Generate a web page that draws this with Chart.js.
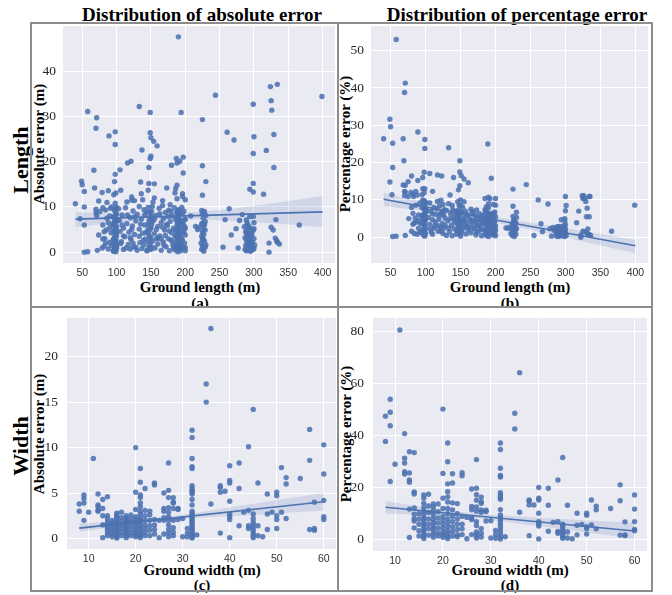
<!DOCTYPE html>
<html><head><meta charset="utf-8">
<script src="https://cdn.jsdelivr.net/npm/chart.js@4"></script>
<style>
body{margin:0;background:#fff;width:672px;height:595px;position:relative;overflow:hidden;font-family:'Liberation Serif','Times New Roman',serif}
.t{position:absolute;white-space:nowrap;line-height:1;font-weight:bold;color:#000;transform:translate(-50%,-50%)}
.r{transform:translate(-50%,-50%) rotate(-90deg)}
.ln{position:absolute;background:#8c8c8c;z-index:5}
canvas{position:absolute}
.clip{position:absolute;left:0;top:0;width:672px;height:306px;overflow:hidden}
</style></head><body>
<div class="t" style="left:202px;top:14px;font-size:19px">Distribution of absolute error</div>
<div class="t" style="left:517px;top:14px;font-size:19px">Distribution of percentage error</div>
<div class="t r" style="left:21px;top:160px;font-size:22px">Length</div>
<div class="t r" style="left:21px;top:446px;font-size:22px">Width</div>
<div class="t r" style="left:39px;top:144px;font-size:15px">Absolute error (m)</div>
<div class="t r" style="left:345px;top:144px;font-size:15px">Percentage error (%)</div>
<div class="t r" style="left:39px;top:434px;font-size:15px">Absolute error (m)</div>
<div class="t r" style="left:346px;top:434px;font-size:15px">Percentage error (%)</div>
<div class="t" style="left:200px;top:287px;font-size:15px">Ground length (m)</div>
<div class="t" style="left:510px;top:287px;font-size:15px">Ground length (m)</div>
<div class="t" style="left:202px;top:570px;font-size:15px">Ground width (m)</div>
<div class="t" style="left:510px;top:570px;font-size:15px">Ground width (m)</div>
<div class="clip">
<div class="t" style="left:200px;top:303px;font-size:15px">(a)</div>
<div class="t" style="left:510px;top:303px;font-size:15px">(b)</div>
</div>
<div class="t" style="left:202px;top:585px;font-size:15px">(c)</div>
<div class="t" style="left:510px;top:585px;font-size:15px">(d)</div>
<canvas id="ca" width="320" height="263" style="left:19px;top:22px"></canvas>
<canvas id="cb" width="325" height="263" style="left:327px;top:22px"></canvas>
<canvas id="cc" width="317" height="257" style="left:23px;top:314px"></canvas>
<canvas id="cd" width="322" height="259" style="left:329px;top:314px"></canvas>
<div class="ln" style="left:30px;top:22px;width:623px;height:2px"></div>
<div class="ln" style="left:30px;top:22px;width:2px;height:570px"></div>
<div class="ln" style="left:651px;top:22px;width:2px;height:570px"></div>
<div class="ln" style="left:30px;top:590px;width:623px;height:2px"></div>
<div class="ln" style="left:337px;top:22px;width:2px;height:570px"></div>
<div class="ln" style="left:30px;top:306px;width:623px;height:2px"></div>
<script>
// ---- tick labels ----
const lenTicks = [50,100,150,200,250,300,350,400];
const widTicks = [10,20,30,40,50,60];
const absLenTicks = [0,10,20,30,40];
const pctLenTicks = [0,10,20,30,40,50];
const absWidTicks = [0,5,10,15,20];
const pctWidTicks = [0,20,40,60,80];

// ---- (a) ground length vs absolute error ----
const absLenPts = [
[190,47.6],[244,34.7],[334,37.1],[324,36.6],[399,34.4],[299,32.7],[325,33.5],[326,31.4],[133,32.2],[58,31.1],
[149,30.9],[194,30.9],[71,29.7],[225,29.3],[70,27.4],[261,26.5],[149,26.4],[98,26.6],[89,25.7],[150,25.3],
[154,24.5],[329,26.0],[300,25.5],[271,24.8],[159,23.5],[98,23.8],[137,22.6],[318,22.5],[299,21.8],[150,21.2],
[149,20.7],[187,20.7],[197,21.0],[121,20.1],[116,19.7],[180,19.2],[188,19.7],[192,20.1],[225,19.1],[147,18.7],
[329,18.7],[67,18.1],[105,18.2],[98,17.2],[197,17.5],[135,15.5],[97,15.6],[49,15.7],[50,14.9],[230,15.6],
[147,15.2],[155,15.1],[299,15.2],[68,14.2],[188,14.8],[53,13.4],[79,13.2],[88,13.6],[106,13.7],[146,13.7],
[173,14.2],[186,14.0],[185,13.1],[196,12.9],[299,13.3],[294,13.9],[314,12.8],[99,13.1],[96,12.7],[225,12.6],
[136,12.9],[155,12.0],[122,12.2],[115,11.1],[122,11.5],[126,11.4],[40,10.7],[74,11.3],[86,11.0],[98,10.8],
[167,11.4],[188,11.8],[196,12.3],[138,11.6],[153,11.1],[178,10.5],[167,10.3],[152,10.1],[133,10.1],[113,9.8],
[93,10.0],[80,9.8],[70,9.5],[53,10.0],[264,9.6],[224,9.2],[190,9.4],[196,8.6],[208,8.0],[283,8.3],
[299,7.9],[294,7.9],
[47,7.4],[53,6.0],[53,0.0],[58,0.1],[70,8.7],[71,8.1],[72,0.4],[74,3.8],[76,9.0],[79,0.9],
[80,2.9],[82,1.3],[83,3.0],[84,9.3],[85,4.9],[88,6.5],[90,5.4],[90,2.2],[91,9.7],[92,4.3],[95,2.7],[95,0.3],
[80,6.0],[82,4.5],[84,2.0],[86,7.5],[88,0.7],[90,8.0],[92,1.5],[94,6.0],
[96,7.9],[96,4.6],[96,1.8],[97,9.2],[97,6.1],[97,3.2],[97,0.6],[98,8.0],[98,5.2],[98,2.4],[98,1.1],
[99,9.6],[99,6.8],[99,4.0],[99,1.5],[99,0.1],[100,8.5],[100,5.7],[100,3.6],[100,2.0],[100,0.8],
[96,0.2],[96,3.0],[96,6.4],[97,1.3],[97,4.8],[97,7.2],[98,0.4],[98,3.7],[98,6.6],[99,2.8],[99,5.4],[99,8.3],
[100,1.2],[100,4.5],[100,6.9],[100,9.9],
[103,9.6],[104,7.0],[105,4.6],[107,2.3],[108,8.2],[110,0.6],[110,5.3],[112,3.4],[115,6.3],[117,1.7],
[118,4.4],[120,7.6],[120,0.7],[121,2.8],[123,5.8],[124,9.1],[125,1.2],[126,3.9],[128,6.9],[130,8.4],[130,0.4],
[120,3.2],[122,5.0],[124,2.0],[126,7.8],[128,1.1],[116,8.2],[114,0.9],[110,3.6],[108,6.0],[106,1.9],
[133,5.1],[134,2.1],[136,7.3],[137,0.8],[138,4.2],[140,9.4],[140,1.6],[141,6.0],[142,2.9],[143,8.8],[144,0.3],
[145,4.8],[146,9.9],[147,6.6],[148,1.3],[148,3.4],[149,7.8],[150,5.4],[150,0.6],[151,9.0],[152,2.4],[153,6.9],
[155,4.1],[156,0.9],[157,8.1],[158,2.9],[160,5.7],[160,1.8],
[133,3.5],[135,6.2],[139,2.6],[141,8.2],[143,4.3],[145,0.4],[146,2.3],[146,5.9],[147,0.8],[147,4.1],[148,7.2],
[148,8.9],[149,2.0],[149,5.0],[150,3.2],[150,8.0],[151,1.1],[151,6.1],[155,7.3],[158,5.0],[160,3.2],
[162,9.7],[163,3.6],[165,6.5],[165,0.4],[168,7.4],[168,2.2],[170,4.9],[171,8.8],[172,1.2],[174,5.9],[175,3.0],
[176,9.3],[177,0.3],[178,6.8],[179,2.7],[180,4.3],[181,8.0],[182,1.6],[183,5.3],[184,9.8],[185,3.5],[185,0.5],
[163,8.5],[165,2.9],[167,5.5],[169,1.5],[171,3.7],[173,6.2],[175,7.9],[177,4.7],[179,9.0],[181,2.4],[183,0.9],
[186,7.1],[187,2.0],[188,6.0],[188,4.6],[188,1.0],[189,9.0],[189,3.1],[189,0.1],[190,7.6],[190,5.6],[190,2.5],
[190,0.7],[191,6.7],[191,4.0],[191,1.7],[192,8.2],[192,3.3],[193,0.3],[194,5.0],[195,9.9],[195,1.4],[196,2.7],
[197,6.3],[198,4.5],[198,0.8],[199,7.2],[199,2.0],[200,11.6],[200,5.3],[200,3.8],[200,1.0],
[186,1.2],[186,4.9],[187,3.8],[187,8.8],[188,2.8],[188,7.7],[189,5.3],[189,6.5],[190,1.6],[190,3.9],[190,8.6],
[191,0.4],[191,9.2],[192,2.1],[192,5.9],[193,4.4],[193,7.0],[194,1.1],[194,3.0],[195,6.6],[196,4.2],[197,1.2],
[198,9.1],[199,5.6],[200,7.3],[200,0.3],
[215,5.7],[218,5.0],[220,5.5],[223,2.0],[224,6.3],[224,0.6],[225,8.6],[225,4.4],[225,1.3],[226,7.5],[226,3.0],
[227,5.9],[227,0.2],[228,9.0],[228,2.4],[229,6.8],[229,4.9],[230,8.1],[230,1.6],
[224,3.5],[225,6.3],[225,2.8],[226,5.0],[226,0.7],[227,3.9],[228,6.1],[229,1.1],
[255,1.1],[258,7.2],[267,3.8],[274,5.2],[277,0.9],[279,7.0],
[286,5.6],[287,3.2],[287,0.6],[288,4.5],[288,1.5],[289,7.1],[289,2.6],[289,0.3],[290,5.0],[290,3.7],[290,1.0],
[291,6.1],[291,2.1],[291,0.5],[292,4.1],[292,1.3],[293,3.0],[293,0.8],[294,5.3],[294,1.8],[295,0.2],[296,3.5],
[296,2.4],[297,1.1],[298,4.7],[299,0.6],[300,6.5],[300,5.2],[300,3.0],[301,1.6],
[289,4.3],[290,6.4],[291,3.3],[292,2.8],[293,5.6],[294,4.0],[295,1.9],[296,0.4],[297,3.8],[298,2.2],[299,4.9],[300,0.9],
[322,2.0],[322,0.0],[325,5.5],[328,4.9],[331,3.1],[332,7.2],[333,2.6],[334,2.2],[337,1.8],[366,6.0]
];
const absLenLineX = [40,400];
const absLenLineY = [7.3,8.9];
const absLenBandX = [40,80,120,160,200,250,300,350,400];
const absLenBandHi = [8.9,8.6,8.4,8.6,8.7,9.3,10.2,11.3,12.4];
const absLenBandLo = [5.5,6.2,6.8,7.1,7.2,7.0,6.6,6.1,5.5];

// ---- (b) ground length vs percentage error ----
const pctLenPts = [
[58,53.0],[71,41.3],[70,38.8],[49,31.6],[50,29.6],[40,26.4],[68,26.4],[53,25.2],[89,28.2],[99,26.2],
[99,23.8],[133,24.0],[189,25.0],[69,20.5],[149,20.5],[53,18.7],[98,17.4],[149,17.5],[151,16.5],[106,17.1],
[117,16.7],[123,16.4],[80,16.4],[140,16.0],[194,15.8],[155,15.6],[161,14.6],[96,16.0],[89,15.2],[75,14.9],
[49,14.8],[244,14.1],[68,14.0],[71,13.9],[149,13.8],[147,12.7],[225,12.9],[110,12.3],[71,12.1],[79,12.0],
[86,12.3],[96,13.0],[98,11.9],[135,11.3],[52,11.4],[83,10.9],[75,10.9],[95,11.4],[185,10.4],[190,10.7],
[192,10.3],[200,10.4],[300,10.9],[326,11.1],[328,10.4],[329,9.6],[335,10.9],[261,10.0],[275,8.9],[301,8.5],
[225,8.3],[399,8.6],[300,7.1],[319,7.0],[331,7.8],[334,5.5],[316,3.9],[366,1.6],[255,0.45],[53,0.2],[58,0.3],
[71,0.5],[230,5.3],[265,3.6],[267,1.5],
[70,12.3],[70,11.2],[76,5.0],[80,8.0],[82,11.5],[82,3.5],[84,1.0],[85,5.2],[87,4.1],[88,11.3],[90,6.0],
[90,2.4],[92,9.2],[93,3.7],[94,1.2],[95,7.9],
[80,1.6],[82,6.4],[84,3.9],[86,8.6],[88,0.8],[90,4.5],[92,1.4],[94,5.8],
[96,5.2],[96,2.0],[97,8.4],[97,4.2],[97,0.6],[98,9.8],[98,6.4],[98,3.3],[98,1.5],[99,13.0],[99,7.5],[99,5.8],
[99,2.6],[99,0.3],[100,9.3],[100,4.7],[100,1.0],
[96,3.6],[96,9.9],[97,1.2],[97,6.0],[98,0.8],[98,4.7],[98,7.8],[99,3.8],[99,9.5],[100,2.3],[100,6.6],[100,8.0],
[102,7.1],[104,5.3],[106,9.2],[107,2.2],[108,6.9],[110,0.8],[110,4.7],[112,8.0],[113,3.0],[115,6.1],[117,9.6],
[118,1.6],[119,4.8],[120,8.4],[121,2.5],[122,9.9],[122,6.5],[124,3.7],[125,8.8],[125,1.0],[126,5.9],[127,7.4],
[128,3.2],[130,7.2],[130,0.5],
[106,3.4],[108,1.4],[110,6.2],[112,2.4],[114,4.1],[116,7.6],[118,3.1],[120,5.8],[122,1.6],[124,6.7],[126,2.4],[128,5.1],
[132,4.4],[133,9.0],[134,1.5],[136,6.2],[137,3.2],[138,8.5],[138,0.4],[140,5.1],[141,2.2],[142,7.0],[143,3.8],
[144,0.8],[145,5.5],[146,9.5],[147,7.3],[147,2.9],[148,4.4],[148,1.2],[149,6.0],[150,10.0],[150,3.6],[150,0.3],
[152,6.6],[152,1.8],[153,8.0],[154,4.2],[155,9.5],[155,2.6],[156,5.3],[157,7.0],[158,0.9],[159,3.9],[160,6.1],
[161,2.0],
[133,2.4],[135,5.0],[139,7.4],[141,4.4],[143,6.0],[145,1.8],[146,4.0],[146,6.8],[147,1.6],[147,5.4],[148,3.1],
[148,8.6],[149,2.1],[149,4.9],[150,6.7],[150,8.5],[151,1.0],[151,3.2],[155,4.6],[158,3.0],[160,2.9],
[163,5.0],[165,7.5],[165,1.2],[167,3.6],[168,6.3],[169,4.6],[170,2.3],[171,5.8],[172,0.6],[173,7.3],[174,3.2],
[175,4.9],[176,1.6],[177,6.3],[178,2.8],[179,5.1],[180,0.4],[181,3.9],[182,6.0],[183,2.0],[184,4.5],[185,7.4],
[163,2.6],[165,4.3],[167,6.9],[169,2.4],[171,4.2],[173,1.4],[175,3.1],[177,4.5],[179,2.2],[181,5.6],[183,3.6],
[185,1.0],[186,3.4],[186,5.5],[187,0.5],[187,8.2],[188,2.6],[188,6.7],[189,4.1],[189,1.4],[190,7.9],[190,5.2],
[190,3.1],[190,0.2],[191,6.0],[191,2.2],[192,4.7],[192,1.0],[193,3.6],[194,6.4],[195,2.0],[196,5.0],[196,0.6],
[197,8.8],[197,3.2],[198,6.3],[198,1.5],[199,4.3],[199,2.4],[200,8.6],[200,5.5],[200,3.0],[200,0.4],
[186,1.8],[186,7.0],[187,4.0],[188,1.1],[188,5.0],[189,3.0],[189,6.2],[190,1.3],[190,4.2],[190,9.0],[191,3.6],
[192,2.7],[192,6.2],[193,5.3],[194,1.5],[194,3.3],[195,4.6],[196,2.6],[197,1.2],[197,5.8],[198,3.8],[199,0.9],
[199,6.8],[200,1.8],
[215,2.5],[218,2.4],[220,2.6],[222,1.0],[224,3.7],[224,0.5],[225,5.6],[225,2.0],[226,3.1],[226,1.2],[227,4.2],
[227,0.2],[228,2.8],[228,1.8],[229,3.8],[229,0.8],[230,6.7],[230,2.3],
[224,2.2],[225,3.5],[225,0.9],[226,4.7],[227,1.8],[228,3.6],[229,2.2],
[278,2.3],[280,0.3],[282,2.6],[284,1.8],
[286,2.1],[287,1.2],[287,0.4],[288,2.8],[288,1.6],[289,1.0],[289,0.2],[290,2.4],[290,1.8],[291,0.6],[291,2.9],
[292,1.4],[292,0.3],[293,2.0],[293,1.0],[294,4.7],[294,2.7],[295,0.7],[296,1.5],[296,2.2],[297,0.4],[298,1.8],
[299,5.0],[299,4.4],[299,2.6],[299,0.2],[300,2.1],[300,1.1],[301,0.5],
[289,2.3],[290,0.9],[291,1.7],[292,2.4],[293,0.6],[294,1.6],[295,2.4],[296,0.9],[297,3.0],[298,1.2],[300,3.4],
[322,0.6],[322,0.0],[324,11.1],[325,10.4],[325,1.6],[328,1.5],[330,5.5],[331,1.0],[332,2.2],[333,0.8],[334,10.9],
[334,0.7],[336,0.5]
];
const pctLenLineX = [40,400];
const pctLenLineY = [10.2,-2.3];
const pctLenBandX = [40,80,120,160,200,250,300,350,400];
const pctLenBandHi = [12.0,10.1,8.3,6.7,5.4,3.9,2.4,0.9,-0.7];
const pctLenBandLo = [8.4,7.5,6.5,5.3,3.9,2.0,-0.1,-2.2,-4.2];

// ---- (c) ground width vs absolute error ----
const absWidPts = [
[36,23.1],[35,17.0],[35,15.0],[45,14.2],[57,12.0],[32,11.9],[32,11.1],[44,10.1],[20,10.0],[60,10.3],
[11,8.8],[32,8.8],[57,8.6],[27,8.3],[42,8.3],[40,8.0],[32,7.9],[32,7.7],[21,7.7],[51,7.8],
[60,7.1],[52,6.7],[55,6.6],[40,6.4],[40,6.1],[24,6.1],[24,5.9],[21,6.2],[46,6.1],[52,6.0],
[22,5.5],[42,5.5],[38,5.8],[38,5.6],[38,5.1],[39,5.2],[32,5.8],[32,5.5],[32,5.3],[32,5.1],
[32,4.9],[27,5.3],[26,5.0],[20,5.1],[50,5.1],[50,4.7],[21,4.8],[21,4.5],[48,4.9],[12,4.9],
[9,4.8],[9,4.4],[9,3.9],[8,3.8],[8,3.0],[9,2.0],[10,2.9],[14,4.6],[13,4.3],[12,3.7],
[12,3.5],[12,3.1],[12,3.0],[27,4.5],[28,4.5],[28,4.0],[28,3.9],[28,3.3],[40,4.1],[58,4.0],
[60,4.2],[36,3.8],[43,2.9],[44,3.1],[49,2.9],[48,2.7],[51,2.9],[50,2.5],[50,2.1],[52,2.2],
[40,2.7],[40,2.4],[40,2.1],[42,1.4],[44,1.4],[44,1.1],[46,1.4],[46,0.3],[47,0.2],[48,1.0],
[50,1.1],[57,1.0],[58,1.1],[58,0.9],[60,2.4],[60,2.1],[38,0.6],[40,0.1],
[45,2.7],[45,2.2],[45,1.8],[45,1.5],[45,1.2],[45,0.9],[45,0.6],[45,0.3],[45,0.1],
[30,0.2],[31,0.2],[31,1.1],[31,0.6],[33,0.4],[29,3.2],[29,3.3],[29,2.1],[30,2.2],
[32,4.3],[32,3.7],[32,3.0],[32,2.8],[32,2.6],[32,2.4],[32,2.2],[32,2.0],[32,1.8],[32,1.6],
[32,1.4],[32,1.2],[32,1.0],[32,0.8],[32,0.6],[32,0.4],[32,0.2],[32,0.05],
[25,0.1],[25,2.0],[26,0.5],[26,2.0],[26,2.3],[26,3.0],[26,3.3],
[27,0.2],[27,0.6],[27,1.0],[27,1.5],[27,2.0],[27,2.4],[27,2.9],[27,3.4],
[28,0.3],[28,0.7],[28,1.2],[28,2.0],
[24,0.5],[24,1.0],[24,1.5],[24,2.1],
[23,0.3],[23,0.9],[23,1.4],[23,2.0],[23,2.6],[23,3.0],
[22,0.3],[22,0.7],[22,1.1],[22,1.5],[22,2.0],[22,2.5],[22,3.1],
[21,0.1],[21,0.3],[21,0.5],[21,0.8],[21,1.1],[21,1.4],[21,1.7],[21,2.0],[21,2.3],[21,2.7],[21,3.0],[21,3.5],[21,3.9],
[20,0.2],[20,0.4],[20,0.6],[20,0.9],[20,1.2],[20,1.5],[20,1.8],[20,2.1],[20,2.4],[20,3.2],
[19,0.3],[19,0.6],[19,1.0],[19,1.4],[19,1.8],[19,2.2],[19,2.6],
[18,0.1],[18,0.3],[18,0.5],[18,0.7],[18,0.9],[18,1.1],[18,1.3],[18,1.5],[18,1.7],[18,1.9],[18,2.1],[18,2.3],[18,2.5],
[17,0.3],[17,0.7],[17,1.1],[17,1.5],[17,1.9],[17,2.3],[17,2.9],
[16,0.05],[16,0.2],[16,0.4],[16,0.6],[16,0.8],[16,1.0],[16,1.2],[16,1.4],[16,1.6],[16,1.8],[16,2.0],[16,2.2],[16,2.4],[16,2.6],[16,2.8],
[15,0.2],[15,0.5],[15,0.8],[15,1.1],[15,1.4],[15,1.7],[15,2.0],
[14,0.3],[14,0.6],[14,0.9],[14,1.2],[14,1.5],[14,1.8],[14,2.2],[14,2.5],
[13,0.1],[13,1.5],[13,2.5],[13,3.3]
];
const absWidLineX = [8,60];
const absWidLineY = [1.15,4.05];
const absWidBandX = [8,15,20,25,30,35,40,45,50,55,60];
const absWidBandHi = [1.65,1.84,2.04,2.30,2.63,3.01,3.44,3.83,4.24,4.62,5.0];
const absWidBandLo = [0.75,1.24,1.60,1.90,2.13,2.31,2.44,2.59,2.74,2.92,3.05];

// ---- (d) ground width vs percentage error ----
const pctWidPts = [
[8,47.5],[8,37.8],[9,54.0],[9,49.0],[9,43.8],[9,22.4],[10,29.0],[11,80.6],[12,40.8],[12,31.3],
[12,29.5],[12,26.2],[12,25.3],[13,33.8],[13,25.7],[13,23.0],[13,22.1],[13,11.8],[13,0.9],[14,33.5],
[14,18.4],[14,17.6],[14,12.2],[14,9.8],[14,8.1],[14,7.2],[14,4.6],
[15,10.0],[15,8.0],[15,6.0],[15,3.5],[15,1.5],
[16,17.2],[16,16.0],[16,14.0],[16,12.3],[16,10.9],[16,9.5],[16,8.3],[16,7.2],[16,6.2],[16,5.2],[16,4.2],[16,3.2],[16,2.3],[16,1.4],[16,0.5],
[17,17.5],[17,13.0],[17,10.5],[17,8.0],[17,6.0],[17,4.2],[17,1.8],
[18,13.8],[18,12.5],[18,11.0],[18,9.5],[18,8.0],[18,6.7],[18,5.5],[18,4.4],[18,3.3],[18,2.2],[18,1.0],
[19,13.8],[19,10.8],[19,8.4],[19,6.5],[19,4.5],[19,2.6],[19,1.5],
[20,50.2],[20,25.5],[20,16.0],[20,12.0],[20,9.0],[20,7.5],[20,6.0],[20,4.5],[20,3.0],[20,2.0],[20,1.0],
[21,37.2],[21,30.0],[21,21.5],[21,18.5],[21,16.5],[21,14.5],[21,12.0],[21,10.0],[21,8.0],[21,6.5],[21,5.0],[21,3.5],[21,2.4],[21,1.4],[21,0.5],
[22,25.4],[22,21.8],[22,14.2],[22,11.5],[22,9.0],[22,7.0],[22,5.0],[22,3.2],[22,1.4],
[23,13.9],[23,10.0],[23,8.0],[23,6.0],[23,4.0],[23,2.0],[23,1.2],
[24,25.8],[24,24.6],[24,9.0],[24,6.0],[24,4.2],[24,2.0],
[25,8.6],[25,0.4],
[26,19.5],[26,12.8],[26,11.5],[26,8.5],[26,7.8],[26,2.0],
[27,30.8],[27,19.8],[27,17.3],[27,15.2],[27,12.6],[27,11.0],[27,7.0],[27,5.5],[27,3.0],[27,1.8],[27,0.7],
[28,16.4],[28,14.6],[28,14.0],[28,11.5],[28,10.6],[28,4.3],[28,2.5],[28,1.1],
[29,11.4],[29,10.9],[29,7.2],[30,7.3],[30,0.7],[31,3.6],[31,2.0],[31,0.6],
[32,37.2],[32,34.7],[32,27.5],[32,24.7],[32,24.1],[32,18.1],[32,17.0],[32,16.2],[32,15.6],[32,11.6],
[32,9.5],[32,8.5],[32,7.5],[32,6.3],[32,5.0],[32,3.8],[32,2.5],[32,1.3],[32,0.3],
[33,1.2],[35,48.6],[35,42.6],[36,64.2],[36,10.6],[38,15.3],[38,14.8],[38,13.4],[38,1.6],[39,13.4],
[40,20.1],[40,16.0],[40,15.3],[40,10.2],[40,7.0],[40,6.1],[40,5.3],[40,0.3],
[42,19.8],[42,13.3],[42,3.3],[43,6.7],[44,23.0],[44,7.0],[44,3.2],[44,2.5],
[45,31.6],[45,6.0],[45,5.0],[45,4.0],[45,3.0],[45,2.2],[45,1.4],[45,0.6],
[46,13.3],[46,3.0],[46,0.7],[47,0.4],[48,10.2],[48,5.6],[48,1.9],[49,5.9],
[50,10.2],[50,9.4],[50,5.0],[50,4.2],[50,2.2],[51,15.3],[51,5.7],[52,12.9],[52,11.5],[52,4.2],
[55,12.0],[57,21.1],[57,15.0],[57,1.8],[58,6.9],[58,1.9],[58,1.6],
[60,17.2],[60,11.8],[60,7.0],[60,4.0],[60,3.5]
];
const pctWidLineX = [8,60];
const pctWidLineY = [12.5,3.4];
const pctWidBandX = [8,15,20,25,30,35,40,45,50,55,60];
const pctWidBandHi = [14.95,12.9,11.6,10.5,9.7,9.1,8.5,8.0,7.45,7.0,6.5];
const pctWidBandLo = [10.05,9.7,9.2,8.5,7.6,6.5,5.3,4.1,2.85,1.6,0.3];

const BLUE = '#4C72B0';
const bgPlugin = {
  id:'bg',
  beforeDraw(chart){
    const {ctx, chartArea:a} = chart;
    ctx.save(); ctx.fillStyle='#EAEAF2';
    ctx.fillRect(a.left, a.top, a.right-a.left, a.bottom-a.top);
    ctx.restore();
  }
};
const zip = (xs, ys) => xs.map((x,i)=>({x, y: ys[i]}));

function panel(id, pts, xTicks, yTicks, xr, yr, lx, ly, bx, bh, bl, yW, pad){
  new Chart(document.getElementById(id), {
    type:'line',
    data:{datasets:[
      {data: zip(lx, ly), borderColor: BLUE, borderWidth: 1.6, pointRadius: 0, fill:false},
      {data: zip(bx, bh), borderWidth: 0, borderColor:'rgba(0,0,0,0)', pointRadius: 0, tension: 0.4, fill: '+1', backgroundColor:'rgba(76,114,176,0.16)'},
      {data: zip(bx, bl), borderWidth: 0, borderColor:'rgba(0,0,0,0)', pointRadius: 0, tension: 0.4, fill:false},
      {data: pts.map(p=>({x:p[0], y:p[1]})), showLine:false, pointRadius: 2.7, pointBorderWidth: 0,
       pointBackgroundColor:'rgba(76,114,176,0.88)', pointBorderColor:'rgba(0,0,0,0)'}
    ]},
    options:{
      responsive:false, animation:false, events:[],
      layout:{padding:{top:4, right:4, left:0, bottom:0}},
      plugins:{legend:{display:false}, tooltip:{enabled:false}},
      scales:{
        x:{type:'linear', min:xr[0], max:xr[1],
           afterBuildTicks: s => { s.ticks = xTicks.map(v=>({value:v})); },
           afterFit: s => { s.height = 22; s.paddingLeft = 0; s.paddingRight = 0; },
           grid:{color:'#ffffff', lineWidth:1, drawTicks:false, tickLength:0},
           border:{display:false},
           ticks:{padding:4, color:'#333', font:{family:'Liberation Sans', size:10.5}, maxRotation:0, autoSkip:false}},
        y:{type:'linear', min:yr[0], max:yr[1],
           afterBuildTicks: s => { s.ticks = yTicks.map(v=>({value:v})); },
           afterFit: s => { s.width = yW; s.paddingTop = 0; s.paddingBottom = 0; },
           grid:{color:'#ffffff', lineWidth:1, drawTicks:false, tickLength:0},
           border:{display:false},
           ticks:{padding:pad, color:'#262626', font:{family:'Liberation Serif', size:13.5}, autoSkip:false}}
      }
    },
    plugins:[bgPlugin]
  });
}

panel('ca', absLenPts, lenTicks, absLenTicks, [22,418], [-2.4,50.0], absLenLineX, absLenLineY, absLenBandX, absLenBandHi, absLenBandLo, 44, 7);
panel('cb', pctLenPts, lenTicks, pctLenTicks, [22,418], [-6.9,56.6], pctLenLineX, pctLenLineY, pctLenBandX, pctLenBandHi, pctLenBandLo, 44, 7);
panel('cc', absWidPts, widTicks, absWidTicks, [5.4,62.6], [-1.15,24.25], absWidLineX, absWidLineY, absWidBandX, absWidBandHi, absWidBandLo, 44, 9);
panel('cd', pctWidPts, widTicks, pctWidTicks, [5.4,62.6], [-4.3,85.2], pctWidLineX, pctWidLineY, pctWidBandX, pctWidBandHi, pctWidBandLo, 44, 9);
</script>
</body></html>
